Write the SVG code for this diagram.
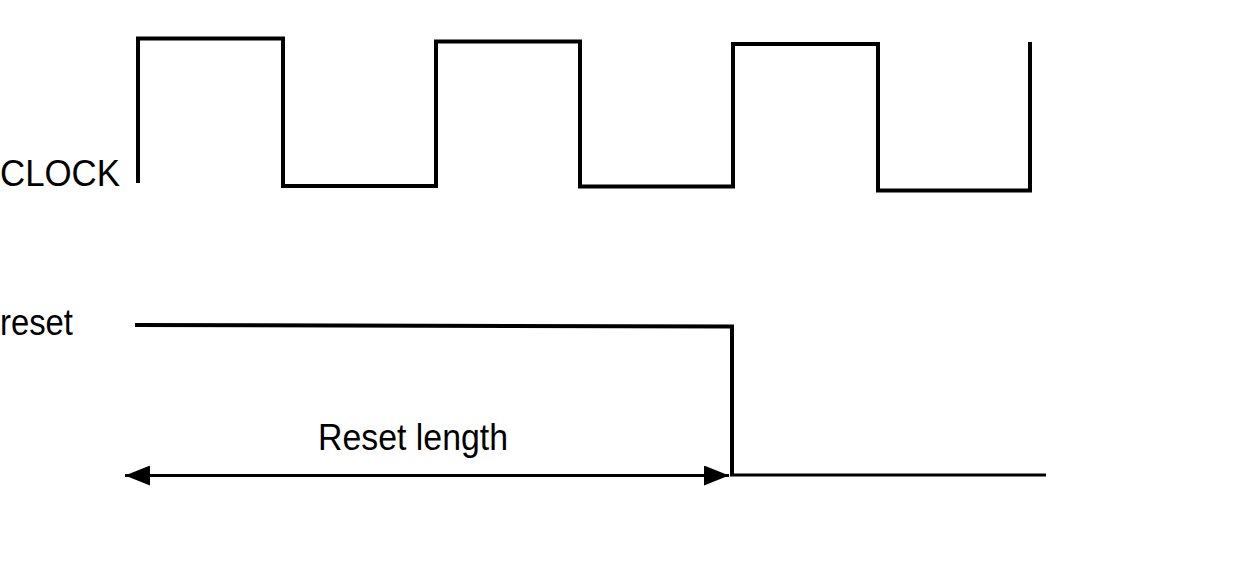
<svg xmlns="http://www.w3.org/2000/svg" width="1259" height="575" viewBox="0 0 1259 575">
  <style>
    .sig { fill: none; stroke: #000; stroke-width: 4; stroke-linejoin: miter; stroke-linecap: butt; }
    .thin { fill: none; stroke: #000; stroke-width: 3; }
    .lbl { font-family: "Liberation Sans", Arial, sans-serif; font-size: 36px; fill: #000; }
  </style>
  <defs>
    <marker id="ah" viewBox="0 0 25 20" refX="25" refY="10" markerWidth="25" markerHeight="20" markerUnits="userSpaceOnUse" orient="auto-start-reverse">
      <path d="M0,0 L25,10 L0,20 Z" fill="#000"/>
    </marker>
  </defs>
  <rect width="1259" height="575" fill="#fff"/>
  <g id="clock-label">
    <text class="lbl" x="0" y="186" textLength="120" lengthAdjust="spacingAndGlyphs">CLOCK</text>
  </g>
  <g id="reset-label">
    <text class="lbl" x="0" y="335" textLength="73" lengthAdjust="spacingAndGlyphs">reset</text>
  </g>
  <g id="length-label">
    <text class="lbl" x="318" y="450" textLength="190" lengthAdjust="spacingAndGlyphs">Reset length</text>
  </g>
  <g id="connectors">
    <path id="clock-wave" class="sig" d="M138,183 V38.5 H283 V186 H436 V41.5 H580 V186.5 H733 V44 H878 V190.5 H1030 V42"/>
    <path id="reset-wave" class="sig" d="M135,325 L732,326.5 V475"/>
    <path id="reset-low" class="thin" d="M730,475 H1046"/>
    <line id="length-arrow" class="thin" x1="125" y1="475.5" x2="729" y2="475.5" marker-start="url(#ah)" marker-end="url(#ah)"/>
  </g>
</svg>
